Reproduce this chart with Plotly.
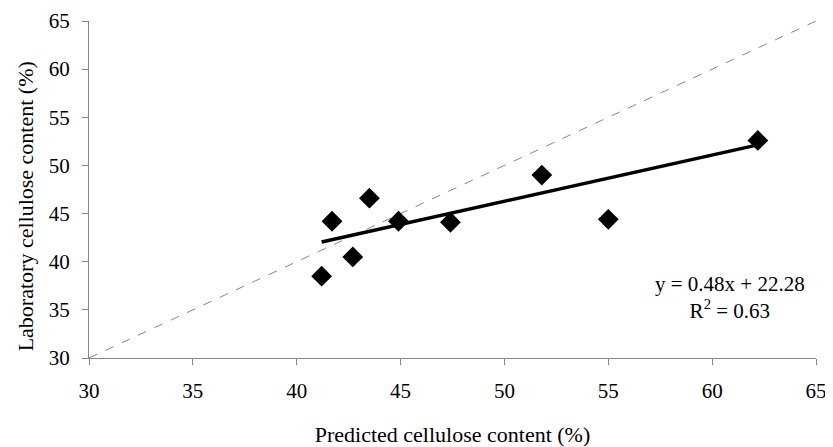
import plotly.graph_objects as go

predicted = [41.2, 41.7, 42.7, 43.5, 44.9, 47.4, 51.8, 55.0, 62.2]
laboratory = [38.5, 44.2, 40.5, 46.6, 44.2, 44.1, 49.0, 44.4, 52.6]
slope = 0.48
intercept = 22.28
r2 = 0.63
ticks = [30, 35, 40, 45, 50, 55, 60, 65]

font = "Liberation Serif, Times New Roman, serif"

fig = go.Figure()
fig.add_trace(go.Scatter(x=[30, 65], y=[30, 65], mode="lines",
                         line=dict(color="#888888", width=1, dash="dash"),
                         showlegend=False, hoverinfo="skip"))
xmin, xmax = min(predicted), max(predicted)
fig.add_trace(go.Scatter(x=[xmin, xmax], y=[slope * xmin + intercept, slope * xmax + intercept],
                         mode="lines", line=dict(color="black", width=3.5),
                         showlegend=False))
fig.add_trace(go.Scatter(x=predicted, y=laboratory, mode="markers",
                         marker=dict(symbol="diamond", size=16, color="black"),
                         showlegend=False))

fig.add_annotation(x=0.882, y=0.18, xref="paper", yref="paper",
                   xanchor="center", yanchor="middle",
                   text=f"y = {slope:.2f}x + {intercept:.2f}<br>R<sup>2</sup> = {r2:.2f}",
                   showarrow=False, font=dict(family=font, size=21, color="black"),
                   align="center")

# y-axis title as a rotated annotation for precise placement
fig.add_annotation(x=0, y=0.45, xref="paper", yref="paper", xshift=-64,
                   xanchor="center", yanchor="middle", textangle=-90,
                   text="Laboratory cellulose content (%)", showarrow=False,
                   font=dict(family=font, size=22, color="black"))

axis_common = dict(range=[30, 65], tickvals=ticks, showgrid=False, zeroline=False,
                   showline=True, linecolor="#888888", linewidth=1,
                   ticks="outside", ticklen=6, tickcolor="#888888", automargin=False,
                   tickfont=dict(family=font, size=21, color="black"))

fig.update_xaxes(**axis_common, ticklabelstandoff=8,
                 title=dict(text="Predicted cellulose content (%)",
                            font=dict(family=font, size=22, color="black"), standoff=28))
fig.update_yaxes(**axis_common, ticklabelstandoff=8)

# page body has an 8px margin, so size the figure to fit the 833x447 window
fig.update_layout(width=825, height=439, margin=dict(l=81, r=17, t=13, b=89),
                  plot_bgcolor="white", paper_bgcolor="white")

fig.write_html("out.html")
